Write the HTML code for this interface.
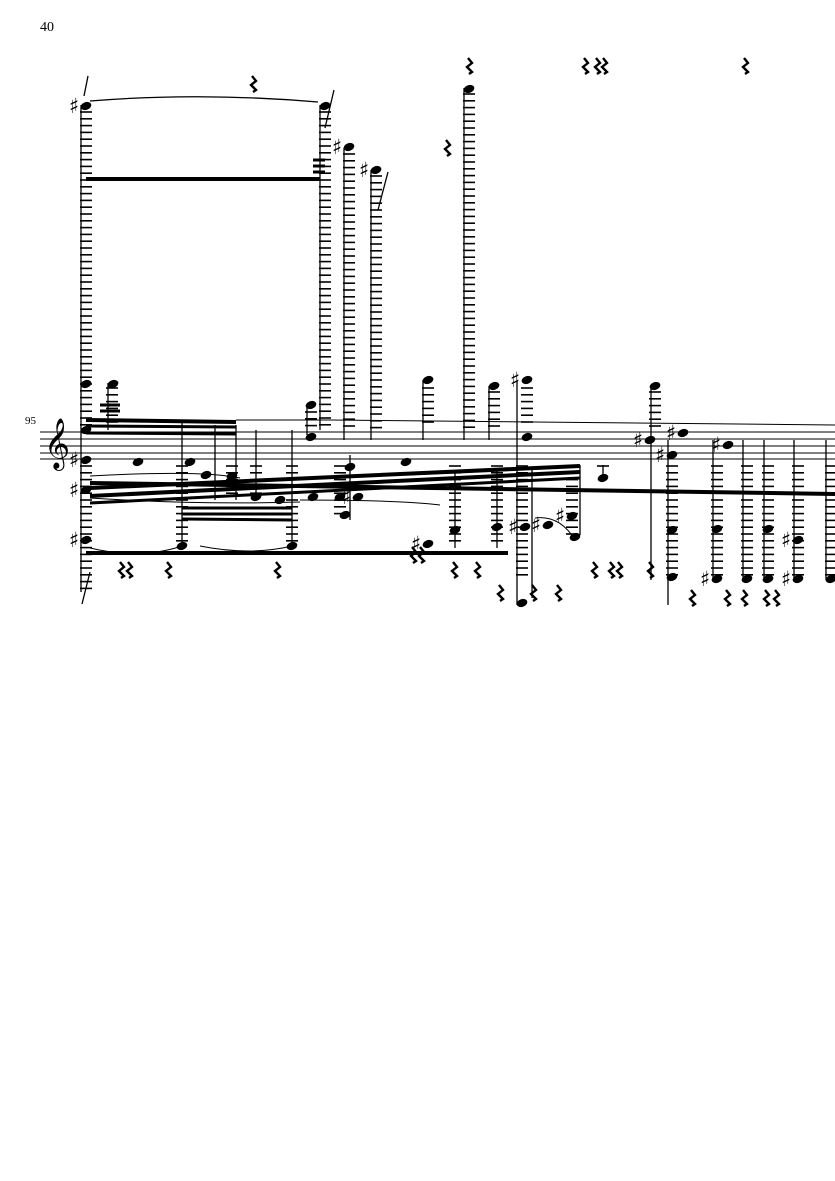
<!DOCTYPE html>
<html><head><meta charset="utf-8"><style>
html,body{margin:0;padding:0;background:#fff;}
body{width:835px;height:1181px;overflow:hidden;position:relative;font-family:"Liberation Serif",serif;}
svg{position:absolute;left:0;top:0;}
</style></head><body>
<svg id="s" width="835" height="1181" viewBox="0 0 835 1181" xmlns="http://www.w3.org/2000/svg">
<text x="40" y="31" font-size="14" font-family="Liberation Serif, serif">40</text>
<text x="25" y="424" font-size="11" font-family="Liberation Serif, serif">95</text>
<g id="g" stroke="#000" fill="#000"></g>
<text x="44" y="458" font-size="44" font-family="DejaVu Sans, sans-serif">𝄞</text>
</svg>
<script>
var g=document.getElementById('g'),h='';
function L(x1,y1,x2,y2,w){h+='<line x1="'+x1+'" y1="'+y1+'" x2="'+x2+'" y2="'+y2+'" stroke-width="'+(w||1)+'"/>';}
function col(x,y1,y2){for(var y=y1;y<=y2;y+=6.8)L(x-6,y.toFixed(1),x+6,y.toFixed(1),1.6);}
function N(x,y,sh){h+='<ellipse cx="'+x+'" cy="'+y+'" rx="5.5" ry="3.9" transform="rotate(-20 '+x+' '+y+')" stroke="none"/>';if(sh)h+='<text x="'+(x-17)+'" y="'+(y+7)+'" font-size="21" stroke="none" font-weight="bold" font-family="DejaVu Sans,sans-serif">♯</text>';}
function R(x,y){h+='<polyline points="'+(x-1)+','+(y-8)+' '+(x+3)+','+(y-3)+' '+(x-2)+','+(y+1)+' '+(x+3)+','+(y+6)+' '+(x)+','+(y+8)+'" fill="none" stroke-width="2.4"/>';}
[432,439,446,453,459].forEach(function(y){L(40,y,835,y,1);});
col(86,112,428);col(325,112,428);col(349,154,428);col(376,176,428);col(469,94,428);
col(112,388,428);col(311,412,428);col(428,388,428);col(494,392,428);col(527,388,428);col(655,392,428);
col(86,466,590);col(182,466,545);col(292,466,545);col(232,466,500);col(256,466,500);col(340,466,520);
col(455,466,545);col(497,466,545);col(522,466,578);col(572,466,535);col(603,466,472);
col(672,466,578);col(717,466,578);col(747,466,578);col(768,466,578);col(798,466,578);col(831,466,578);
[[81,105,592],[320,105,430],[344,148,440],[371,170,440],[464,88,440],[108,383,430],[307,405,435],[423,380,440],[489,386,440],[517,380,605],[651,385,580],[668,440,605],[713,440,580],[743,440,580],[764,440,580],[794,440,580],[826,440,580],[182,420,545],[292,430,545],[236,425,500],[256,430,500],[215,425,500],[580,465,535],[603,465,480],[455,470,548],[497,470,548],[350,455,520],[532,470,598]].forEach(function(a){L(a[0],a[1],a[0],a[2],1.3);});
L(86,179,320,179,4);L(86,420,236,422,4);L(86,426,236,427,3);L(86,433,236,434,3);
L(90,488,580,466,4);L(90,496,580,472,4);L(90,503,580,478,3);L(90,483,835,494,4);
L(86,553,508,553,4);L(182,508,292,508,3);L(182,514,292,514,3);L(182,519,292,520,3);
L(236,420,330,420,1);L(330,420,835,425,1);
L(313,160,325,160,3);L(313,166,325,166,3);L(313,172,325,172,3);
L(100,405,120,405,3);L(100,411,120,411,3);
h+='<path d="M90,101 Q200,92 318,102" fill="none" stroke-width="1.3"/>';
h+='<path d="M90,476 Q200,470 240,478" fill="none" stroke-width="1"/>';
h+='<path d="M90,498 Q200,505 300,502" fill="none" stroke-width="1"/>';
h+='<path d="M90,548 Q140,560 182,546" fill="none" stroke-width="1"/>';
h+='<path d="M200,546 Q250,556 292,546" fill="none" stroke-width="1"/>';
h+='<path d="M300,500 Q400,500 440,505" fill="none" stroke-width="1"/>';
h+='<path d="M535,518 Q560,515 575,540" fill="none" stroke-width="1"/>';
N(86,106,1);N(325,106);N(349,147,1);N(376,170,1);N(469,89);N(86,384);N(113,384);N(311,405);N(428,380);N(494,386);N(527,380,1);N(655,386);
N(86,430);N(311,437);N(527,437);N(728,445,1);N(683,433,1);N(672,455,1);N(650,440,1);N(350,467);N(406,462);N(138,462);N(190,462);N(206,475);N(232,476);N(256,497);N(280,500);N(313,497);N(358,497,1);N(428,544,1);N(525,527,1);N(548,525,1);N(575,537);N(603,478);N(572,516,1);
N(86,460,1);N(86,490,1);N(86,540,1);N(182,546);N(292,546);N(340,497);N(345,515);N(522,603);N(672,577);N(717,579,1);N(747,579);N(768,579);N(798,579,1);N(831,579);N(717,529);N(768,529);N(798,540,1);N(672,530);N(497,527);N(455,530);
[[585,66],[597,66],[604,66],[745,66],[469,66],[253,84],[447,148],[121,570],[129,570],[168,570],[277,570],[413,555],[421,555],[454,570],[477,570],[594,570],[611,570],[619,570],[650,570],[533,593],[558,593],[692,598],[727,598],[744,598],[766,598],[776,598],[500,593]].forEach(function(a){R(a[0],a[1]);});
L(82,604,90,572,1.3);L(325,128,334,90,1.3);L(378,210,388,172,1.3);L(84,96,88,76,1.3);
g.innerHTML=h;
</script>
</body></html>
